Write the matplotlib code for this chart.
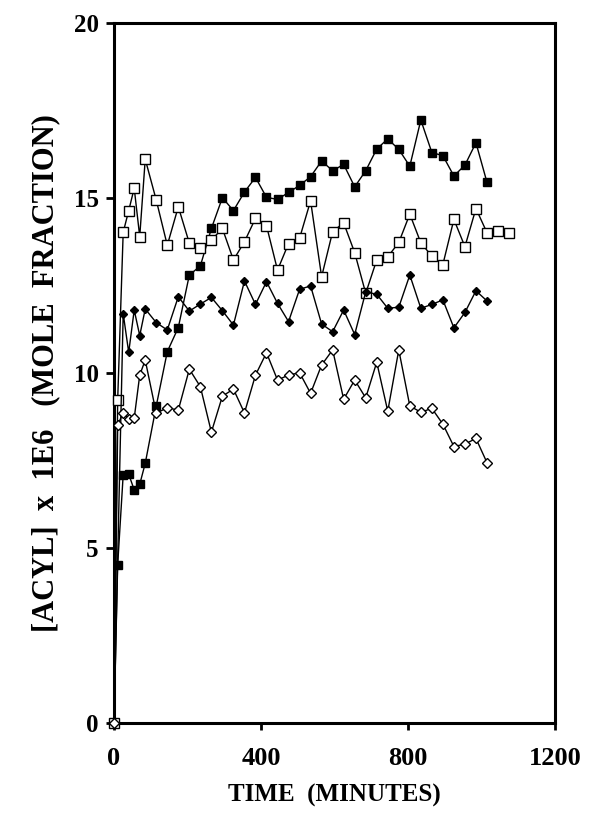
import matplotlib
matplotlib.use("Agg")
import matplotlib.pyplot as plt

# Sampling times (minutes)
t_main = [0, 10, 25, 40, 55, 70, 85, 115, 145, 175, 205, 235, 265, 295, 325,
          355, 385, 415, 445, 475, 505, 535, 565, 595, 625, 655, 685, 715,
          745, 775, 805, 835, 865, 895, 925, 955, 985, 1015]
t_long = t_main + [1045, 1075]
t_no10 = [t for t in t_main if t != 10]

# [ACYL] x 1E6 (mole fraction)
filled_sq = [0, 4.52, 7.09, 7.11, 6.66, 6.82, 7.42, 9.06, 10.61, 11.3, 12.8,
             13.06, 14.13, 15.01, 14.64, 15.17, 15.59, 15.02, 14.96, 15.16,
             15.36, 15.61, 16.06, 15.78, 15.96, 15.32, 15.78, 16.4, 16.69,
             16.39, 15.91, 17.23, 16.3, 16.21, 15.63, 15.94, 16.58, 15.45]
open_sq = [0, 9.23, 14.02, 14.64, 15.28, 13.9, 16.11, 14.94, 13.65, 14.75,
           13.71, 13.58, 13.8, 14.13, 13.23, 13.75, 14.42, 14.21, 12.94, 13.7,
           13.85, 14.92, 12.75, 14.04, 14.29, 13.44, 12.28, 13.23, 13.32,
           13.73, 14.54, 13.72, 13.34, 13.1, 14.39, 13.61, 14.7, 14.01, 14.07,
           14.01]
filled_dia = [0, 11.7, 10.59, 11.8, 11.07, 11.83, 11.44, 11.23, 12.18, 11.77,
              11.97, 12.16, 11.78, 11.37, 12.63, 11.96, 12.61, 11.99, 11.47,
              12.39, 12.49, 11.4, 11.18, 11.8, 11.1, 12.32, 12.25, 11.85,
              11.88, 12.8, 11.85, 11.96, 12.09, 11.29, 11.73, 12.35, 12.06]
open_dia = [0, 8.51, 8.87, 8.69, 8.71, 9.94, 10.37, 8.85, 9.01, 8.94, 10.11,
            9.61, 8.31, 9.34, 9.54, 8.86, 9.94, 10.58, 9.8, 9.94, 10.01, 9.42,
            10.23, 10.66, 9.25, 9.8, 9.29, 10.31, 8.91, 10.66, 9.06, 8.88,
            8.99, 8.54, 7.9, 7.97, 8.13, 7.44]

x_ticks = [0, 400, 800, 1200]
y_ticks = [0, 5, 10, 15, 20]

plt.rcParams['font.family'] = ['Liberation Serif', 'DejaVu Serif']
plt.rcParams['font.weight'] = 'bold'

fig = plt.figure(figsize=(5.91, 8.23), dpi=100)
ax = fig.add_axes([0.1929, 0.1215, 0.7461, 0.8505])

lw = 1.0
ax.plot(t_main, filled_sq, color='black', lw=lw, marker='s', ms=6,
        mfc='black', mec='black', clip_on=False, zorder=3)
ax.plot(t_long, open_sq, color='black', lw=lw, marker='s', ms=6.5,
        mfc='white', mec='black', mew=1.0, clip_on=False, zorder=3)
ax.plot(t_no10, filled_dia, color='black', lw=lw, marker='D', ms=4,
        mfc='black', mec='black', clip_on=False, zorder=3)
ax.plot(t_main, open_dia, color='black', lw=lw, marker='D', ms=5.5,
        mfc='white', mec='black', mew=1.0, clip_on=False, zorder=4)

ax.set_xlim(0, 1200)
ax.set_ylim(0, 20)
ax.set_xticks(x_ticks)
ax.set_yticks(y_ticks)
ax.set_xticklabels([str(v) for v in x_ticks], fontsize=19, fontweight='bold')
ax.set_yticklabels([str(v) for v in y_ticks], fontsize=18, fontweight='bold')
ax.tick_params(axis='x', direction='out', length=5, width=2, pad=12)
ax.tick_params(axis='y', direction='out', length=6, width=2, pad=5)

for sp in ax.spines.values():
    sp.set_linewidth(2.2)

ax.set_xlabel('TIME  (MINUTES)', fontsize=18, fontweight='bold', labelpad=10)
ax.set_ylabel('[ACYL]  x  1E6   (MOLE  FRACTION)', fontsize=22,
              fontweight='bold', labelpad=10)

fig.savefig('out.png', dpi=100, facecolor='white')
